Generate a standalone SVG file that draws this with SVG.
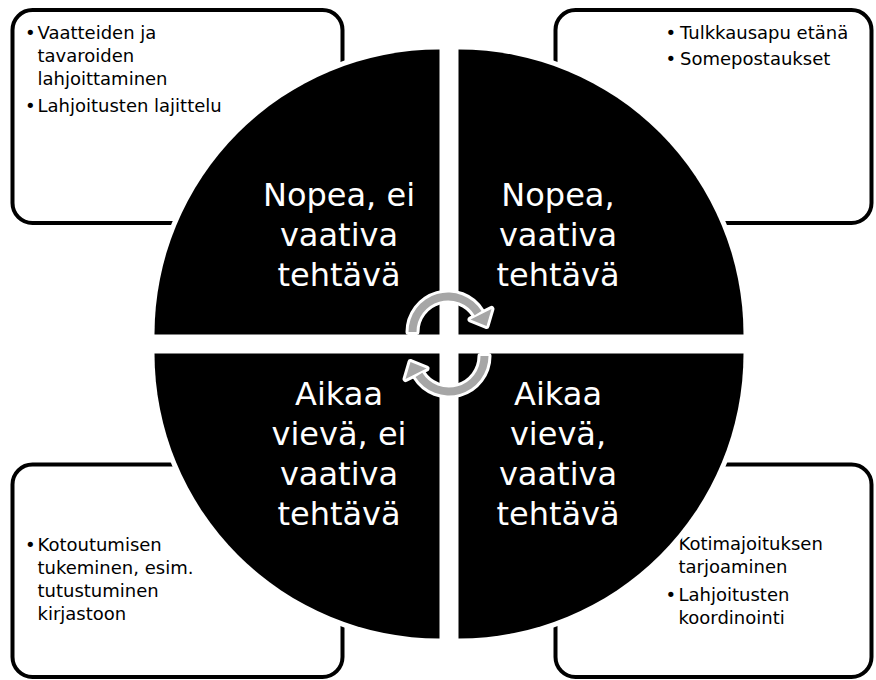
<svg xmlns="http://www.w3.org/2000/svg" width="876" height="680" viewBox="0 0 876 680">
  <style>
    .box { fill: #ffffff; stroke: #000000; stroke-width: 4; }
    .btxt { font-family: "DejaVu Sans", Verdana, sans-serif; font-size: 18px; fill: #000000; }
    .quad { fill: #000000; stroke: #ffffff; stroke-width: 10; paint-order: stroke; stroke-linejoin: miter; }
    .qtxt { font-family: "DejaVu Sans", Verdana, sans-serif; font-size: 32px; fill: #ffffff; text-anchor: middle; }
    .arrow-outline { fill: #ffffff; stroke: #ffffff; stroke-width: 6; stroke-linejoin: round; }
    .arrow-fill { fill: #a6a6a6; stroke: none; }
  </style>
  <defs>
    <g id="circ-arrow">
      <path d="M408.5,332 A39.5,39.5 0 0 1 481.5,311.1 L474.7,315.3 A31.5,31.5 0 0 0 416.5,332 Z"/>
      <polygon points="470.5,319.5 491.5,309 486.5,326"/>
    </g>
  </defs>

  <!-- outer boxes -->
  <g id="box-top-left">
    <rect class="box" x="12.5" y="10" width="330" height="213" rx="20" ry="20"/>
    <text class="btxt" x="25" y="39">•</text>
    <text class="btxt" x="37.5" y="39">Vaatteiden ja</text>
    <text class="btxt" x="37.5" y="62">tavaroiden</text>
    <text class="btxt" x="37.5" y="85">lahjoittaminen</text>
    <text class="btxt" x="25" y="112">•</text>
    <text class="btxt" x="37.5" y="112">Lahjoitusten lajittelu</text>
  </g>
  <g id="box-top-right">
    <rect class="box" x="555.5" y="10" width="316" height="213" rx="20" ry="20"/>
    <text class="btxt" x="665.5" y="39">•</text>
    <text class="btxt" x="680" y="39">Tulkkausapu etänä</text>
    <text class="btxt" x="665.5" y="65">•</text>
    <text class="btxt" x="680" y="65">Somepostaukset</text>
  </g>
  <g id="box-bottom-left">
    <rect class="box" x="12.5" y="464.5" width="330" height="212.5" rx="20" ry="20"/>
    <text class="btxt" x="25" y="551">•</text>
    <text class="btxt" x="37.5" y="551">Kotoutumisen</text>
    <text class="btxt" x="37.5" y="574">tukeminen, esim.</text>
    <text class="btxt" x="37.5" y="597">tutustuminen</text>
    <text class="btxt" x="37.5" y="620">kirjastoon</text>
  </g>
  <g id="box-bottom-right">
    <rect class="box" x="555.5" y="464.5" width="316" height="212.5" rx="20" ry="20"/>
    <text class="btxt" x="678.5" y="550">Kotimajoituksen</text>
    <text class="btxt" x="678.5" y="573">tarjoaminen</text>
    <text class="btxt" x="665.5" y="600.5">•</text>
    <text class="btxt" x="678.5" y="600.5">Lahjoitusten</text>
    <text class="btxt" x="678.5" y="623.5">koordinointi</text>
  </g>

  <!-- circle quadrants -->
  <g id="quad-top-left">
    <path class="quad" d="M439.5,334.5 L154.5,334.5 A285,285 0 0 1 439.5,49.5 Z"/>
    <text class="qtxt" x="339" y="206">Nopea, ei</text>
    <text class="qtxt" x="339" y="246">vaativa</text>
    <text class="qtxt" x="339" y="286">tehtävä</text>
  </g>
  <g id="quad-top-right">
    <path class="quad" d="M458.5,334.5 L458.5,49.5 A285,285 0 0 1 743.5,334.5 Z"/>
    <text class="qtxt" x="558" y="206">Nopea,</text>
    <text class="qtxt" x="558" y="246">vaativa</text>
    <text class="qtxt" x="558" y="286">tehtävä</text>
  </g>
  <g id="quad-bottom-left">
    <path class="quad" d="M439.5,353.5 L439.5,638.5 A285,285 0 0 1 154.5,353.5 Z"/>
    <text class="qtxt" x="339" y="405">Aikaa</text>
    <text class="qtxt" x="339" y="445">vievä, ei</text>
    <text class="qtxt" x="339" y="485">vaativa</text>
    <text class="qtxt" x="339" y="525">tehtävä</text>
  </g>
  <g id="quad-bottom-right">
    <path class="quad" d="M458.5,353.5 L743.5,353.5 A285,285 0 0 1 458.5,638.5 Z"/>
    <text class="qtxt" x="558" y="405">Aikaa</text>
    <text class="qtxt" x="558" y="445">vievä,</text>
    <text class="qtxt" x="558" y="485">vaativa</text>
    <text class="qtxt" x="558" y="525">tehtävä</text>
  </g>

  <!-- connectors: circular arrows -->
  <g id="connectors">
    <use href="#circ-arrow" class="arrow-outline"/>
    <use href="#circ-arrow" class="arrow-outline" transform="rotate(180 448.5 344)"/>
    <use href="#circ-arrow" class="arrow-fill"/>
    <use href="#circ-arrow" class="arrow-fill" transform="rotate(180 448.5 344)"/>
  </g>
</svg>
